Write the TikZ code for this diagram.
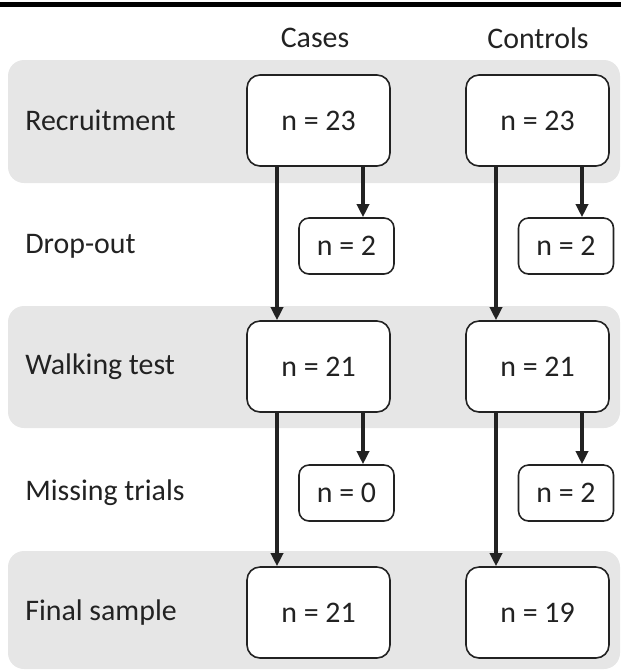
\documentclass[tikz,border=0pt]{standalone}
\usepackage{fontspec}
\setmainfont{Carlito}
\usepackage{tikz}
\usetikzlibrary{positioning,arrows.meta}

\definecolor{bandgray}{HTML}{E6E6E6}
\definecolor{ink}{HTML}{222222}

\tikzset{
	bigbox/.style={draw=ink, line width=0.9pt, fill=white, rounded corners=0.26cm,
		minimum width=2.86cm, minimum height=1.82cm},
	smallbox/.style={draw=ink, line width=0.9pt, fill=white, rounded corners=0.2cm,
		minimum width=1.9cm, minimum height=1.12cm},
	rowlab/.style={anchor=west, inner sep=0pt},
	arr/.style={draw=ink, line width=2pt, -{Triangle[length=0.26cm, width=0.24cm]}},
	band/.style={fill=bandgray, rounded corners=0.32cm}
}

\begin{document}
\begin{tikzpicture}[node distance=4.92cm, on grid, font=\fontsize{17}{20}\selectfont, text=ink]
	\useasboundingbox (0,0) rectangle (12.42,-13.42);

	% grey bands behind the stages
	\fill[band] (0.16,-1.2) rectangle (12.40,-3.66);
	\fill[band] (0.16,-6.12) rectangle (12.40,-8.56);
	\fill[band] (0.16,-11.02) rectangle (12.40,-13.38);
	\draw[line width=0.1cm, black] (0,-0.09) -- (12.42,-0.09);

	% cases
	\node[bigbox] (rec-ca) at (6.37,-2.41) {n = 23};
	\node[bigbox] (walk-ca) [below=of rec-ca] {n = 21};
	\node[bigbox] (fin-ca) [below=of walk-ca] {n = 21};
	\node[smallbox] (drop-ca) [below right=2.51cm and 0.56cm of rec-ca] {n = 2};
	\node[smallbox] (miss-ca) [below right=2.53cm and 0.56cm of walk-ca] {n = 0};

	% controls
	\node[bigbox] (rec-co) [right=4.38cm of rec-ca] {n = 23};
	\node[bigbox] (walk-co) [below=of rec-co] {n = 21};
	\node[bigbox] (fin-co) [below=of walk-co] {n = 19};
	\node[smallbox] (drop-co) [below right=2.51cm and 0.57cm of rec-co] {n = 2};
	\node[smallbox] (miss-co) [below right=2.53cm and 0.57cm of walk-co] {n = 2};

	% headers and row labels
	\node (h-ca) at (6.3,-0.76) {Cases};
	\node (h-co) at (10.76,-0.76) {Controls};
	\node[rowlab] (l-rec) at (0.5,0 |- rec-ca) {Recruitment};
	\node[rowlab] (l-drop) at (0.5,0 |- drop-ca) {Drop-out};
	\node[rowlab] (l-walk) at (0.5,0 |- walk-ca) {Walking test};
	\node[rowlab] (l-miss) at (0.5,0 |- miss-ca) {Missing trials};
	\node[rowlab] (l-fin) at (0.5,0 |- fin-ca) {Final sample};

	\foreach \g in {ca,co} {
		\draw[arr] ([xshift=-0.83cm]rec-\g.south) -- ([xshift=-0.83cm]walk-\g.north);
		\draw[arr] ([xshift=-0.83cm]walk-\g.south) -- ([xshift=-0.83cm]fin-\g.north);
		\draw[arr] ([xshift=0.89cm]rec-\g.south) -- ([xshift=0.89cm]rec-\g.south |- drop-\g.north);
		\draw[arr] ([xshift=0.89cm]walk-\g.south) -- ([xshift=0.89cm]walk-\g.south |- miss-\g.north);
	}
\end{tikzpicture}
\end{document}
